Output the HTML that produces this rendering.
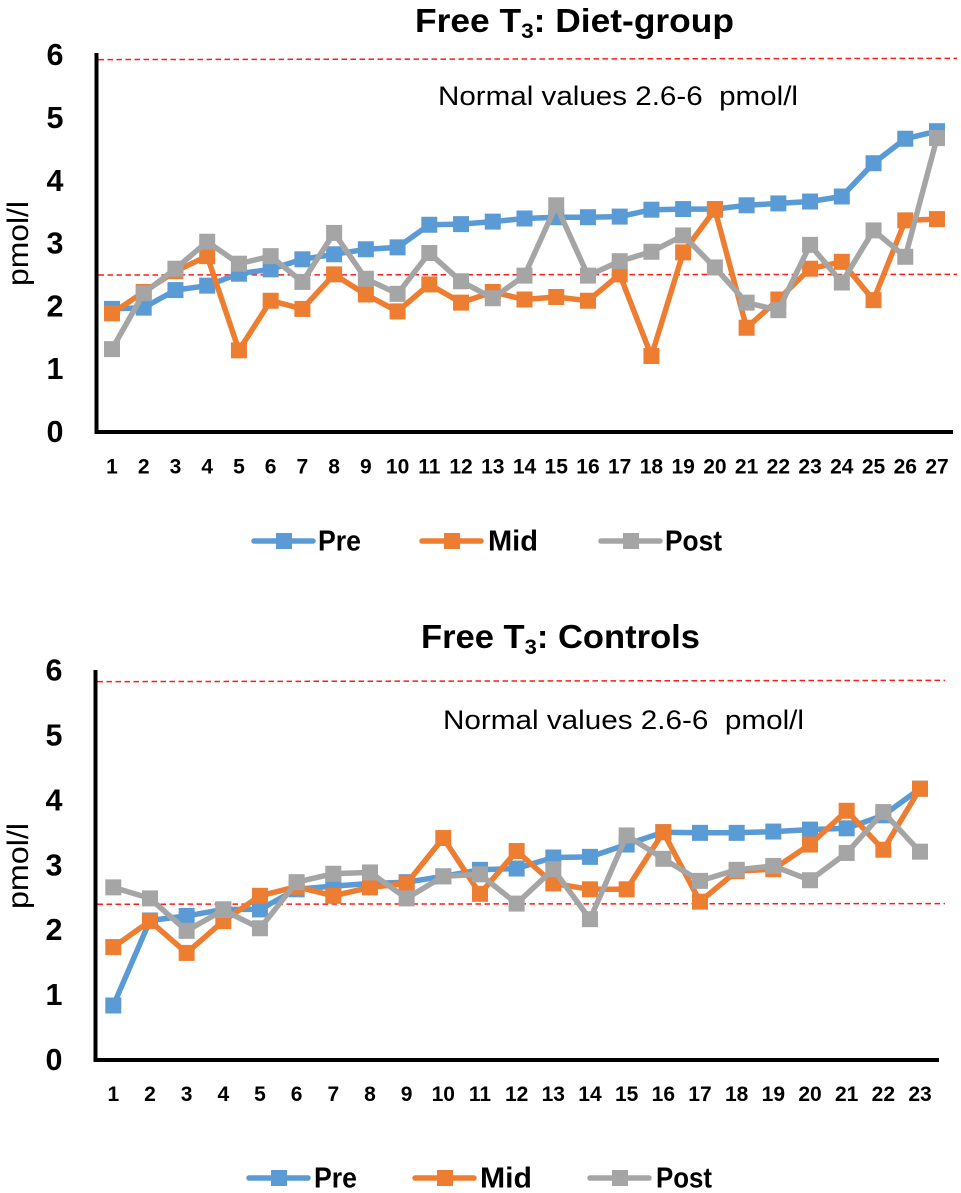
<!DOCTYPE html>
<html lang="en">
<head>
<meta charset="utf-8">
<title>Free T3 charts</title>
<style>
html,body{margin:0;padding:0;background:#fff;width:961px;height:1193px;overflow:hidden}
svg{display:block}
text{font-family:"Liberation Sans",Arial,sans-serif;fill:#000}
.b{font-weight:bold}
</style>
</head>
<body>
<svg id="figure" xmlns="http://www.w3.org/2000/svg" width="961" height="1193" viewBox="0 0 961 1193">
  <rect x="0" y="0" width="961" height="1193" fill="#fff"/>
  <g id="chart-top">
    <text class="b" x="415" y="32" font-size="33" textLength="319" lengthAdjust="spacingAndGlyphs">Free T<tspan font-size="21" dy="6">3</tspan><tspan dy="-6">: Diet-group</tspan></text>
    <text x="438" y="105" font-size="27" textLength="360" lengthAdjust="spacingAndGlyphs" xml:space="preserve">Normal values 2.6-6  pmol/l</text>
    <text transform="translate(28,286) rotate(-90)" font-size="30" textLength="85" lengthAdjust="spacingAndGlyphs">pmol/l</text>
  </g>
  <g id="chart-bottom">
    <text class="b" x="421" y="648" font-size="33" textLength="279" lengthAdjust="spacingAndGlyphs">Free T<tspan font-size="21" dy="6">3</tspan><tspan dy="-6">: Controls</tspan></text>
    <text x="443" y="729" font-size="27" textLength="361" lengthAdjust="spacingAndGlyphs" xml:space="preserve">Normal values 2.6-6  pmol/l</text>
    <text transform="translate(28,909) rotate(-90)" font-size="30" textLength="86" lengthAdjust="spacingAndGlyphs">pmol/l</text>
  </g>
</svg>
<script>
var yTickLabels = [0, 1, 2, 3, 4, 5, 6];
var seriesNames = ['Pre', 'Mid', 'Post'];

var dietCategories = [1,2,3,4,5,6,7,8,9,10,11,12,13,14,15,16,17,18,19,20,21,22,23,24,25,26,27];
var dietPre = [1.96,1.98,2.26,2.33,2.52,2.59,2.75,2.83,2.91,2.94,3.30,3.31,3.35,3.40,3.42,3.42,3.43,3.54,3.55,3.55,3.61,3.64,3.67,3.75,4.28,4.67,4.79];
var dietMid = [1.89,2.23,2.56,2.80,1.30,2.09,1.96,2.51,2.19,1.92,2.35,2.06,2.23,2.11,2.15,2.09,2.51,1.21,2.86,3.54,1.66,2.11,2.60,2.71,2.10,3.37,3.39];
var dietPost = [1.32,2.21,2.60,3.03,2.68,2.80,2.39,3.17,2.44,2.20,2.85,2.40,2.13,2.49,3.61,2.49,2.72,2.87,3.13,2.62,2.06,1.94,2.98,2.38,3.21,2.79,4.68];
var dietUpperRef = [5.93, 5.95];
var dietLowerRef = [2.50, 2.51];

var controlCategories = [1,2,3,4,5,6,7,8,9,10,11,12,13,14,15,16,17,18,19,20,21,22,23];
var controlPre = [0.84,2.15,2.22,2.32,2.32,2.63,2.68,2.72,2.74,2.83,2.93,2.95,3.12,3.13,3.32,3.51,3.50,3.50,3.52,3.55,3.57,3.77,4.18];
var controlMid = [1.74,2.14,1.65,2.14,2.53,2.67,2.53,2.66,2.72,3.42,2.56,3.22,2.72,2.63,2.63,3.51,2.44,2.91,2.94,3.32,3.84,3.24,4.18];
var controlPost = [2.66,2.49,1.99,2.31,2.03,2.74,2.87,2.89,2.49,2.83,2.86,2.41,2.94,2.17,3.46,3.10,2.76,2.93,2.99,2.77,3.19,3.82,3.21];
var controlUpperRef = [5.83, 5.85];
var controlLowerRef = [2.40, 2.41];

var NS = 'http://www.w3.org/2000/svg';
var seriesColors = ['#5B9BD5', '#ED7D31', '#A5A5A5'];

function make(parent, tag, attrs, text) {
  var el = document.createElementNS(NS, tag);
  for (var k in attrs) el.setAttribute(k, attrs[k]);
  if (text !== undefined) el.textContent = text;
  parent.appendChild(el);
  return el;
}

function drawChart(group, prefix, L, categories, values, upperRef, lowerRef) {
  function xPos(i) { return L.x1 + (L.xN - L.x1) * i / (categories.length - 1); }
  function yPos(v) { return L.y0 - L.unit * v; }

  var yAxis = make(group, 'line', {x1: L.axisX, x2: L.axisX, y1: L.axisTop, y2: L.y0 + 2, stroke: '#000', 'stroke-width': 4});
  
  
  var xAxis = make(group, 'line', {x1: L.axisX - 2, x2: L.axisRight, y1: L.y0, y2: L.y0, stroke: '#000', 'stroke-width': 4});
  
  

  yTickLabels.forEach(function (t) {
    var lab = make(group, 'text', {x: L.yLabelX, y: yPos(t) + 10, 'font-size': 30.5, 'font-weight': 'bold', 'text-anchor': 'middle'}, t);
    
    
  });

  categories.forEach(function (c, i) {
    var lab = make(group, 'text', {x: xPos(i), y: L.xLabelY, 'font-size': 21, 'font-weight': 'bold', 'text-anchor': 'middle'}, c);
    
    
  });

  [upperRef, lowerRef].forEach(function (r, idx) {
    var ref = make(group, 'line', {x1: L.axisX + 2, x2: L.refRight, y1: yPos(r[0]), y2: yPos(r[1]), stroke: '#FF1A1A', 'stroke-width': 1.5, 'stroke-dasharray': '5.5 3.5'});
    
    
  });

  values.forEach(function (vals, s) {
    var sg = make(group, 'g', {});
    
    
    var pts = vals.map(function (v, i) { return xPos(i).toFixed(1) + ',' + yPos(v).toFixed(1); }).join(' ');
    var poly = make(sg, 'polyline', {points: pts, fill: 'none', stroke: seriesColors[s], 'stroke-width': 5.5, 'stroke-linejoin': 'round', 'stroke-linecap': 'round'});
    
    
    vals.forEach(function (v, i) {
      var m = make(sg, 'rect', {x: xPos(i) - 8, y: yPos(v) - 8, width: 16, height: 16, fill: seriesColors[s]});
      
      
    });
  });

  L.legend.forEach(function (e, s) {
    var lg = make(group, 'g', {});
    
    
    make(lg, 'line', {x1: e.line, x2: e.line + 59, y1: L.legendY, y2: L.legendY, stroke: seriesColors[s], 'stroke-width': 5.5, 'stroke-linecap': 'round'});
    make(lg, 'rect', {x: e.line + 22, y: L.legendY - 8, width: 16, height: 16, fill: seriesColors[s]});
    make(lg, 'text', {x: e.text, y: L.legendY + 9.5, 'font-size': 28.5, 'font-weight': 'bold', textLength: e.w, lengthAdjust: 'spacingAndGlyphs'}, seriesNames[s]);
  });
}

drawChart(document.getElementById('chart-top'), 'diet-group', {
  x1: 112, xN: 937, y0: 432, unit: 62.8, axisX: 96.5, axisTop: 53, axisRight: 953, refRight: 957,
  yLabelX: 55, xLabelY: 473.5, legendY: 541,
  legend: [{line: 254, text: 318, w: 43}, {line: 422, text: 488, w: 50}, {line: 601, text: 665, w: 57}]
}, dietCategories, [dietPre, dietMid, dietPost], dietUpperRef, dietLowerRef);

drawChart(document.getElementById('chart-bottom'), 'controls', {
  x1: 113.3, xN: 920, y0: 1060, unit: 64.9, axisX: 95.5, axisTop: 670, axisRight: 939, refRight: 945,
  yLabelX: 54, xLabelY: 1101, legendY: 1178,
  legend: [{line: 249, text: 314, w: 43}, {line: 415, text: 480, w: 52}, {line: 590, text: 656, w: 56}]
}, controlCategories, [controlPre, controlMid, controlPost], controlUpperRef, controlLowerRef);
</script>
</body>
</html>
